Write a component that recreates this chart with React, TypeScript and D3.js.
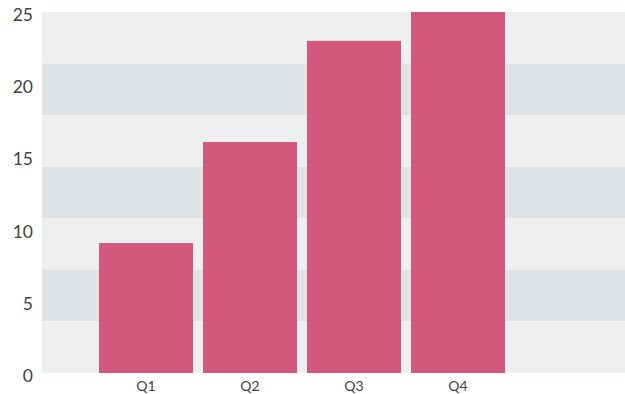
import React from "react";
import * as d3 from "d3";

const categories = ["Q1", "Q2", "Q3", "Q4"];
const values = [9, 16, 23, 25];
const yTicks = [0, 5, 10, 15, 20, 25];
const bandCount = 7;

export default function App() {
  const W = 625, H = 394;
  const left = 42, right = 625, top = 12, bottom = 373;
  const y = d3.scaleLinear().domain([0, 25]).range([bottom, top]);
  const x = d3.scaleBand().domain(categories).range([94, 510]).paddingInner(10 / 104).paddingOuter(5 / 104);
  const bandH = (bottom - top) / bandCount;
  const bands = d3.range(bandCount);
  const font = "Lato, 'Open Sans', sans-serif";
  return (
    <svg width={W} height={H} style={{ position: "absolute", left: 0, top: 0, display: "block" }}>
      {bands.map((i) => (
        <rect key={i} x={left} y={top + i * bandH} width={right - left} height={bandH}
          fill={i % 2 === 0 ? "#eeeff1" : "#dfe2e5"} />
      ))}
      {categories.map((c, i) => (
        <rect key={c} x={x(c)} y={y(values[i])} width={x.bandwidth()} height={bottom - y(values[i])} fill="#d4577d" />
      ))}
      {yTicks.map((t) => (
        <text key={t} x={33} y={y(t) + 4.5} textAnchor="end" dominantBaseline="middle"
          fontFamily={font} fontSize={17.5} fill="#444">{t}</text>
      ))}
      {categories.map((c) => (
        <text key={c} x={(x(c) as number) + x.bandwidth() / 2} y={387.5} textAnchor="middle" dominantBaseline="middle"
          fontFamily={font} fontSize={14} fill="#444">{c}</text>
      ))}
    </svg>
  );
}
